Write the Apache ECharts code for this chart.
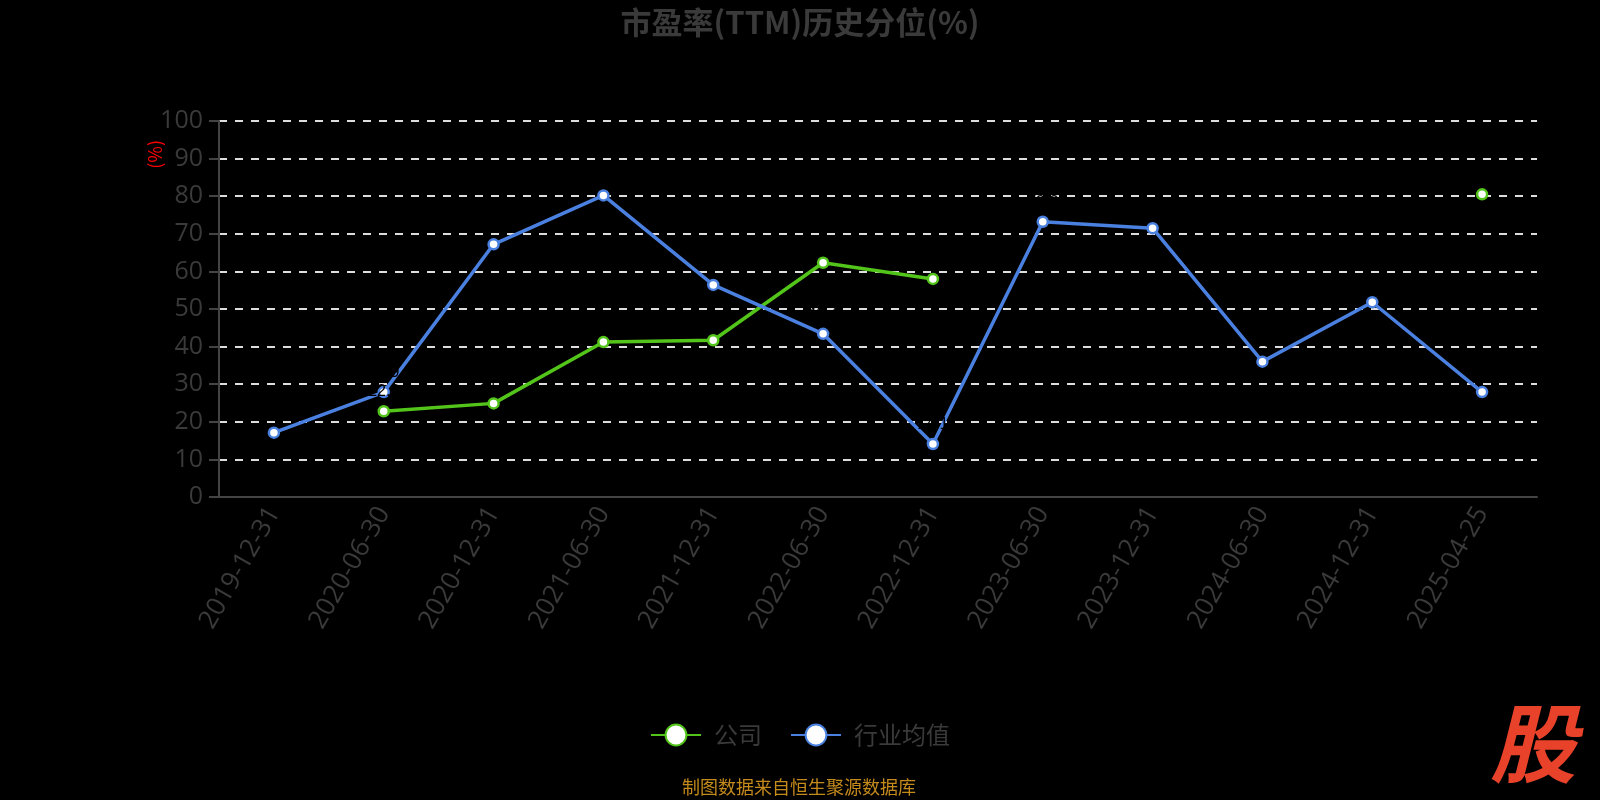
<!DOCTYPE html>
<html><head><meta charset="utf-8">
<script src="https://cdn.jsdelivr.net/npm/echarts@6/dist/echarts.min.js"></script>
<style>html,body{margin:0;padding:0;background:#000;}#c{width:1600px;height:800px;}</style>
</head><body><div id="c"></div>
<script>
const categories = ['2019-12-31','2020-06-30','2020-12-31','2021-06-30','2021-12-31','2022-06-30','2022-12-31','2023-06-30','2023-12-31','2024-06-30','2024-12-31','2025-04-25'];
const companyValues = [null, 22.8, 24.9, 41.2, 41.7, 62.3, 58.0, null, null, null, null, 80.5];
const industryValues = [17.1, 27.9, 67.2, 80.2, 56.4, 43.4, 14.1, 73.2, 71.5, 36.0, 51.8, 27.9];
const yTicks = [0, 10, 20, 30, 40, 50, 60, 70, 80, 90, 100];

const chart = echarts.init(document.getElementById('c'));
const font = '"Microsoft YaHei","Noto Sans CJK SC",sans-serif';
const latin = '"Open Sans","Noto Sans CJK SC",sans-serif';
chart.setOption({
  backgroundColor: '#000',
  title: {text: '市盈率(TTM)历史分位(%)', left: 'center', top: 2,
    textStyle: {color: '#3a3a3a', fontSize: 31, fontWeight: 'bold', fontFamily: font}},
  grid: {left: 219, right: 63, top: 121, bottom: 303},
  legend: {bottom: 48, left: 'center', itemWidth: 50, itemHeight: 26, itemGap: 28,
    textStyle: {color: '#3a3a3a', fontSize: 24, fontFamily: font, padding: [0, 0, 0, 8]},
    data: ['公司', '行业均值']},
  xAxis: {type: 'category', data: categories, boundaryGap: true,
    axisLine: {lineStyle: {color: '#444', width: 2}},
    axisTick: {lineStyle: {color: '#444', width: 2}, length: 7},
    axisLabel: {color: '#3a3a3a', fontSize: 26, rotate: 60, margin: 12, fontFamily: latin, interval: 0}},
  yAxis: {type: 'value', min: yTicks[0], max: yTicks[yTicks.length-1], interval: 10,
    axisLine: {show: true, lineStyle: {color: '#444', width: 2}},
    axisTick: {show: true, length: 10, lineStyle: {color: '#444', width: 2}},
    axisLabel: {color: '#3a3a3a', fontSize: 25, margin: 16, fontFamily: latin},
    splitLine: {lineStyle: {color: '#ddd', type: [8, 8], width: 2}}},
  graphic: [
    {type: 'text', left: 146, top: 140, rotation: Math.PI/2,
      style: {text: '(%)', fill: '#ff0000', font: '18px ' + font}},
    {type: 'text', left: 682, top: 778,
      style: {text: '制图数据来自恒生聚源数据库', fill: '#c48a1c', font: '18px ' + font}},
    {type: 'text', right: 24, bottom: 14,
      style: {text: '股', fill: '#e8432a', font: 'italic bold 86px ' + font}}
  ],
  series: [
    {name: '公司', type: 'line', data: companyValues, connectNulls: false,
      symbol: 'circle', symbolSize: 10,
      itemStyle: {color: '#fff', borderColor: '#52c41a', borderWidth: 2.5},
      lineStyle: {color: '#52c41a', width: 3.5},
      label: {show: true, color: '#000', fontSize: 16, position: 'top'}},
    {name: '行业均值', type: 'line', data: industryValues,
      symbol: 'circle', symbolSize: 10,
      itemStyle: {color: '#fff', borderColor: '#4a80e0', borderWidth: 2.5},
      lineStyle: {color: '#4a80e0', width: 3.5},
      label: {show: true, color: '#000', fontSize: 16, position: 'top'}}
  ]
});
</script></body></html>
